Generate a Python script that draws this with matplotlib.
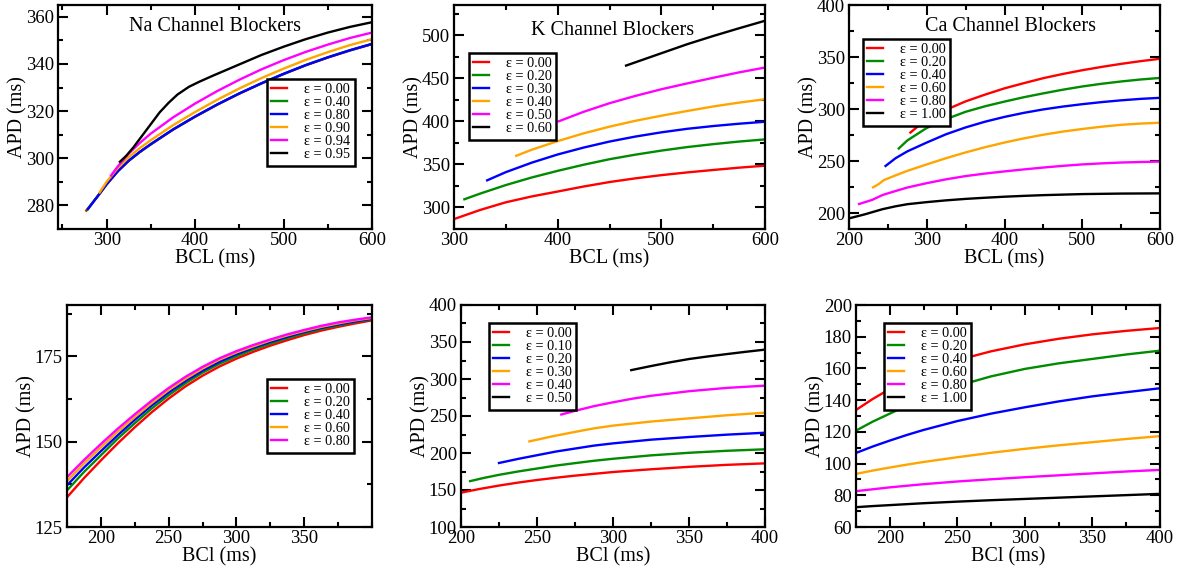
import matplotlib
matplotlib.use("Agg")
import matplotlib.pyplot as plt
from matplotlib.ticker import MultipleLocator, FixedLocator

plt.rcParams['font.family'] = ['Liberation Serif', 'DejaVu Serif']

W, H = 1185, 569

# ---------------- data ----------------
# Panel 1: Na channel blockers (BCL, APD)
na_labels = ["ε = 0.00", "ε = 0.40", "ε = 0.80", "ε = 0.90", "ε = 0.94", "ε = 0.95"]
na_x0 = [277, 290, 300, 312.5, 325, 337.5, 350, 375, 400, 425, 450, 475, 500, 525, 550, 575, 600]
na_y0 = [277.8, 283.9, 288.9, 294.4, 298.9, 302.6, 305.9, 312.1, 317.6, 322.7, 327.4, 331.7, 335.7, 339.4, 342.7, 345.7, 348.4]
na_x1 = [278, 290, 300, 312.5, 325, 337.5, 350, 375, 400, 425, 450, 475, 500, 525, 550, 575, 600]
na_y1 = [278.2, 284.0, 289.0, 294.5, 299.0, 302.7, 306.0, 312.2, 317.7, 322.8, 327.5, 331.8, 335.8, 339.5, 342.8, 345.8, 348.5]
na_x2 = [279, 290, 300, 312.5, 325, 337.5, 350, 375, 400, 425, 450, 475, 500, 525, 550, 575, 600]
na_y2 = [278.5, 284.0, 289.0, 294.5, 299.0, 302.7, 306.0, 312.2, 317.7, 322.8, 327.5, 331.8, 335.8, 339.5, 342.8, 345.8, 348.5]
na_x3 = [292, 300, 312.5, 325, 337.5, 350, 375, 400, 425, 450, 475, 500, 525, 550, 575, 600]
na_y3 = [285.5, 290.0, 295.8, 300.5, 304.3, 307.7, 314.0, 319.6, 324.8, 329.6, 334.0, 338.0, 341.7, 345.0, 348.0, 350.5]
na_x4 = [305, 312.5, 325, 337.5, 350, 375, 400, 425, 450, 475, 500, 525, 550, 575, 600]
na_y4 = [292.7, 296.5, 302.0, 306.5, 310.5, 317.3, 323.2, 328.5, 333.3, 337.7, 341.6, 345.1, 348.2, 351.0, 353.3]
na_x5 = [315, 322, 330, 340, 350, 360, 370, 380, 393, 405, 420, 450, 475, 500, 525, 550, 575, 600]
na_y5 = [298.5, 301.0, 304.5, 309.5, 314.5, 319.5, 323.5, 327.0, 330.3, 332.5, 335.0, 339.8, 343.8, 347.3, 350.5, 353.3, 355.7, 357.7]

# Panel 2: K channel blockers
k_labels = ["ε = 0.00", "ε = 0.20", "ε = 0.30", "ε = 0.40", "ε = 0.50", "ε = 0.60"]
k_x0 = [300, 325, 350, 375, 400, 425, 450, 475, 500, 525, 550, 575, 600]
k_y0 = [286.5, 297.0, 306.0, 312.8, 318.5, 324.3, 329.5, 333.8, 337.5, 340.7, 343.5, 346.2, 348.5]
k_x1 = [310, 325, 350, 375, 400, 425, 450, 475, 500, 525, 550, 575, 600]
k_y1 = [309.5, 316.0, 326.0, 334.8, 342.5, 349.6, 356.0, 361.3, 366.0, 370.1, 373.5, 376.5, 379.0]
k_x2 = [332, 350, 375, 400, 425, 450, 475, 500, 525, 550, 575, 600]
k_y2 = [331.5, 341.0, 352.0, 361.5, 369.5, 376.5, 382.3, 387.2, 391.3, 394.5, 397.2, 399.5]
k_x3 = [360, 375, 400, 425, 450, 475, 500, 525, 550, 575, 600]
k_y3 = [360.0, 367.0, 377.0, 386.0, 393.8, 400.6, 406.5, 412.0, 417.2, 421.7, 425.6]
k_x4 = [401, 425, 450, 475, 500, 525, 550, 575, 600]
k_y4 = [400.0, 411.0, 421.0, 429.5, 437.2, 444.0, 450.5, 456.8, 462.4]
k_x5 = [466, 500, 525, 550, 575, 600]
k_y5 = [464.7, 479.0, 489.5, 499.0, 508.0, 516.7]

# Panel 3: Ca channel blockers
ca_labels = ["ε = 0.00", "ε = 0.20", "ε = 0.40", "ε = 0.60", "ε = 0.80", "ε = 1.00"]
ca_x0 = [279, 300, 325, 350, 375, 400, 425, 450, 475, 500, 525, 550, 575, 600]
ca_y0 = [277.6, 290.5, 299.5, 307.5, 314.0, 320.0, 325.0, 329.8, 333.8, 337.4, 340.6, 343.5, 346.1, 348.4]
ca_x1 = [264, 275, 300, 325, 350, 375, 400, 425, 450, 475, 500, 525, 550, 575, 600]
ca_y1 = [262.3, 270.0, 282.0, 290.5, 297.5, 302.8, 307.3, 311.5, 315.2, 318.7, 321.8, 324.4, 326.6, 328.5, 330.0]
ca_x2 = [247, 260, 275, 300, 325, 350, 375, 400, 425, 450, 475, 500, 525, 550, 575, 600]
ca_y2 = [245.5, 253.0, 259.5, 268.0, 276.0, 282.5, 288.0, 292.6, 296.5, 299.8, 302.5, 304.8, 306.8, 308.5, 309.9, 310.9]
ca_x3 = [231, 238, 245, 260, 275, 300, 325, 350, 375, 400, 425, 450, 475, 500, 525, 550, 575, 600]
ca_y3 = [225.0, 228.0, 232.0, 236.5, 240.8, 247.0, 253.0, 258.5, 263.5, 268.0, 272.0, 275.5, 278.5, 281.0, 283.2, 285.0, 286.2, 287.0]
ca_x4 = [213, 230, 243, 260, 275, 300, 325, 350, 375, 400, 425, 450, 475, 500, 525, 550, 575, 600]
ca_y4 = [209.0, 213.0, 217.6, 221.5, 224.8, 229.0, 232.7, 235.8, 238.2, 240.3, 242.2, 244.0, 245.6, 247.0, 248.0, 248.8, 249.3, 249.7]
ca_x5 = [200, 220, 243, 260, 275, 300, 325, 350, 375, 400, 425, 450, 475, 500, 550, 600]
ca_y5 = [195.2, 199.0, 204.0, 206.8, 208.8, 210.8, 212.5, 213.9, 215.0, 216.0, 216.8, 217.5, 218.0, 218.5, 219.0, 219.2]

# Panel 4: Na blockers (second model)
na2_labels = ["ε = 0.00", "ε = 0.20", "ε = 0.40", "ε = 0.60", "ε = 0.80"]
na2_x = [175, 187.5, 200, 212.5, 225, 237.5, 250, 262.5, 275, 287.5, 300,
         312.5, 325, 337.5, 350, 362.5, 375, 387.5, 400]
na2_y0 = [133.7, 139.3, 144.5, 149.5, 154.2, 158.6, 162.6, 166.2, 169.3, 172.0, 174.3,
          176.3, 178.1, 179.7, 181.2, 182.5, 183.6, 184.6, 185.5]
na2_y1 = [135.7, 141.1, 146.0, 150.9, 155.4, 159.7, 163.6, 167.1, 170.2, 172.8, 175.0,
          177.0, 178.7, 180.3, 181.7, 183.0, 184.0, 185.0, 185.8]
na2_y2 = [137.2, 142.4, 147.2, 151.9, 156.4, 160.6, 164.4, 167.8, 170.8, 173.4, 175.6,
          177.5, 179.2, 180.7, 182.1, 183.3, 184.3, 185.2, 186.0]
na2_y3 = [138.4, 143.6, 148.3, 152.9, 157.2, 161.3, 165.1, 168.4, 171.4, 174.0, 176.1,
          177.9, 179.6, 181.1, 182.4, 183.6, 184.6, 185.5, 186.2]
na2_y4 = [139.6, 144.6, 149.3, 153.8, 158.0, 162.0, 165.7, 169.0, 171.9, 174.4, 176.5,
          178.3, 179.9, 181.4, 182.7, 183.9, 184.9, 185.7, 186.4]

# Panel 5: K blockers (second model)
k2_labels = ["ε = 0.00", "ε = 0.10", "ε = 0.20", "ε = 0.30", "ε = 0.40", "ε = 0.50"]
k2_x0 = [200, 212.5, 225, 237.5, 250, 262.5, 275, 300, 325, 350, 375, 400]
k2_y0 = [146.4, 151.5, 156.0, 160.0, 163.5, 166.6, 169.4, 174.3, 178.0, 181.3, 184.0, 186.0]
k2_x1 = [206, 215, 225, 237.5, 250, 262.5, 275, 287.5, 300, 325, 350, 375, 400]
k2_y1 = [162.0, 166.3, 170.5, 175.0, 179.0, 183.0, 186.3, 189.5, 192.2, 196.8, 200.3, 203.0, 205.0]
k2_x2 = [225, 237.5, 250, 262.5, 275, 287.5, 300, 325, 350, 375, 400]
k2_y2 = [186.5, 192.0, 197.0, 202.0, 206.0, 210.0, 213.0, 218.0, 221.6, 224.8, 227.4]
k2_x3 = [245, 260, 275, 287.5, 300, 325, 350, 375, 400]
k2_y3 = [215.7, 222.5, 228.5, 233.3, 237.0, 242.5, 246.8, 251.0, 254.5]
k2_x4 = [266, 275, 287.5, 300, 312.5, 325, 350, 375, 400]
k2_y4 = [252.0, 257.0, 263.3, 268.5, 273.3, 277.3, 283.5, 288.0, 291.0]
k2_x5 = [312, 325, 337.5, 350, 362.5, 375, 387.5, 400]
k2_y5 = [312.0, 317.5, 322.5, 327.0, 330.5, 333.7, 336.8, 339.7]

# Panel 6: Ca blockers (second model)
ca2_labels = ["ε = 0.00", "ε = 0.20", "ε = 0.40", "ε = 0.60", "ε = 0.80", "ε = 1.00"]
ca2_x = [175, 187.5, 200, 212.5, 225, 250, 275, 300, 325, 350, 375, 400]
ca2_y0 = [133.8, 140.8, 147.0, 152.5, 157.3, 165.2, 170.8, 175.2, 178.7, 181.5, 183.7, 185.5]
ca2_y1 = [120.8, 126.5, 131.5, 136.5, 141.0, 149.0, 155.0, 159.7, 163.2, 166.0, 168.8, 171.2]
ca2_y2 = [106.7, 110.8, 114.5, 118.0, 121.2, 126.8, 131.5, 135.5, 139.2, 142.4, 145.0, 147.5]
ca2_y3 = [93.5, 95.6, 97.5, 99.3, 101.0, 104.0, 106.8, 109.3, 111.5, 113.5, 115.5, 117.3]
ca2_y4 = [82.6, 83.8, 85.0, 86.0, 87.0, 88.7, 90.1, 91.4, 92.6, 93.8, 95.0, 96.0]
ca2_y5 = [72.5, 73.2, 73.8, 74.4, 75.0, 76.0, 76.9, 77.7, 78.5, 79.3, 80.1, 80.9]

colors = ["#ff0000", "#008b00", "#0000ff", "#ffa500", "#ff00ff", "#000000"]

# ---------------- figure ----------------
fig = plt.figure(figsize=(W / 100, H / 100), dpi=100)


def make_ax(x0, x1, y0, y1):
    return fig.add_axes([x0 / W, 1 - y1 / H, (x1 - x0) / W, (y1 - y0) / H])


def style(ax, xlim, ylim, xmaj, xmin, ymaj, ymin, xlabel, xticks=None):
    ax.set_xlim(*xlim)
    ax.set_ylim(*ylim)
    if xticks is not None:
        ax.xaxis.set_major_locator(FixedLocator(xticks))
    else:
        ax.xaxis.set_major_locator(MultipleLocator(xmaj))
    ax.xaxis.set_minor_locator(MultipleLocator(xmin))
    ax.yaxis.set_major_locator(MultipleLocator(ymaj))
    ax.yaxis.set_minor_locator(MultipleLocator(ymin))
    ax.tick_params(which='both', direction='in', top=True, right=True,
                   labelsize=13.5, width=1.5)
    ax.tick_params(axis='x', pad=2)
    ax.tick_params(axis='y', pad=3)
    ax.tick_params(which='major', length=7)
    ax.tick_params(which='minor', length=3.5)
    for s in ax.spines.values():
        s.set_linewidth(1.6)
    ax.set_xlabel(xlabel, fontsize=14.5, labelpad=0)
    ax.set_ylabel("APD (ms)", fontsize=14.5, labelpad=-1)


def legend(ax, x, y):
    leg = ax.legend(loc='upper left', bbox_to_anchor=(x, y), borderaxespad=0,
                    fontsize=10.3, handlelength=1.1, handletextpad=1.2,
                    labelspacing=0.0, borderpad=0.3, fancybox=False,
                    framealpha=1, edgecolor='black')
    leg.get_frame().set_linewidth(1.8)


lw = 1.7

# Panel 1
ax1 = make_ax(58, 372, 5, 229)
for xs, ys, c, l in zip([na_x0, na_x1, na_x2, na_x3, na_x4, na_x5],
                        [na_y0, na_y1, na_y2, na_y3, na_y4, na_y5], colors, na_labels):
    ax1.plot(xs, ys, color=c, lw=lw, label=l)
style(ax1, (245, 600), (270, 365), 100, 50, 20, 10, "BCL (ms)")
ax1.text(0.5, 0.905, "Na Channel Blockers", transform=ax1.transAxes,
         ha='center', va='center', fontsize=14.5)
legend(ax1, 0.666, 0.67)

# Panel 2
ax2 = make_ax(454, 765, 5, 229)
for xs, ys, c, l in zip([k_x0, k_x1, k_x2, k_x3, k_x4, k_x5],
                        [k_y0, k_y1, k_y2, k_y3, k_y4, k_y5], colors, k_labels):
    ax2.plot(xs, ys, color=c, lw=lw, label=l)
style(ax2, (300, 600), (275, 535), 100, 50, 50, 25, "BCL (ms)")
ax2.text(0.51, 0.885, "K Channel Blockers", transform=ax2.transAxes,
         ha='center', va='center', fontsize=14.5)
legend(ax2, 0.048, 0.786)

# Panel 3
ax3 = make_ax(849, 1160, 5, 229)
for xs, ys, c, l in zip([ca_x0, ca_x1, ca_x2, ca_x3, ca_x4, ca_x5],
                        [ca_y0, ca_y1, ca_y2, ca_y3, ca_y4, ca_y5], colors, ca_labels):
    ax3.plot(xs, ys, color=c, lw=lw, label=l)
style(ax3, (200, 600), (185, 400), 100, 50, 50, 25, "BCL (ms)")
ax3.text(0.52, 0.905, "Ca Channel Blockers", transform=ax3.transAxes,
         ha='center', va='center', fontsize=14.5)
legend(ax3, 0.045, 0.848)

# Panel 4
ax4 = make_ax(67, 372, 305, 527)
for ys, c, l in zip([na2_y0, na2_y1, na2_y2, na2_y3, na2_y4], colors, na2_labels):
    ax4.plot(na2_x, ys, color=c, lw=lw, label=l)
style(ax4, (175, 400), (125, 190), 50, 25, 25, 12.5, "BCl (ms)",
      xticks=[200, 250, 300, 350])
legend(ax4, 0.656, 0.667)

# Panel 5
ax5 = make_ax(461, 765, 305, 527)
for xs, ys, c, l in zip([k2_x0, k2_x1, k2_x2, k2_x3, k2_x4, k2_x5],
                        [k2_y0, k2_y1, k2_y2, k2_y3, k2_y4, k2_y5], colors, k2_labels):
    ax5.plot(xs, ys, color=c, lw=lw, label=l)
style(ax5, (200, 400), (100, 400), 50, 25, 50, 25, "BCl (ms)")
legend(ax5, 0.092, 0.919)

# Panel 6
ax6 = make_ax(856, 1160, 305, 527)
for ys, c, l in zip([ca2_y0, ca2_y1, ca2_y2, ca2_y3, ca2_y4, ca2_y5], colors, ca2_labels):
    ax6.plot(ca2_x, ys, color=c, lw=lw, label=l)
style(ax6, (175, 400), (60, 200), 50, 25, 20, 10, "BCl (ms)",
      xticks=[200, 250, 300, 350, 400])
legend(ax6, 0.092, 0.919)

fig.savefig("out.png", dpi=100)
